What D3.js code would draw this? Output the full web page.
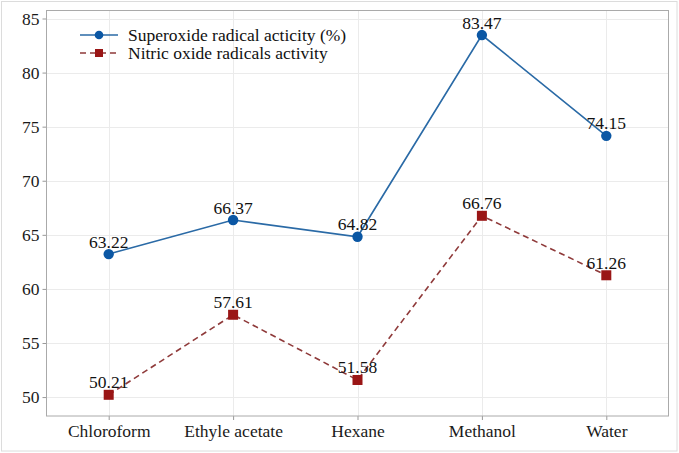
<!DOCTYPE html>
<html>
<head>
<meta charset="utf-8">
<script src="https://cdn.jsdelivr.net/npm/d3@7"></script>
<style>
  html, body { margin: 0; padding: 0; background: #fff; }
  svg { display: block; }
</style>
</head>
<body>
<svg id="chart" width="679" height="453"></svg>
<script>
const categories = ["Chloroform", "Ethyle acetate", "Hexane", "Methanol", "Water"];
const superoxide = [63.22, 66.37, 64.82, 83.47, 74.15];
const nitricOxide = [50.21, 57.61, 51.58, 66.76, 61.26];
const yTicks = [50, 55, 60, 65, 70, 75, 80, 85];
const seriesNames = ["Superoxide radical acticity (%)", "Nitric oxide radicals activity"];

const W = 679, H = 453;
const margin = { left: 46.5, right: 10.5, top: 10.5, bottom: 37 };
const svg = d3.select("#chart");
const font = "'Liberation Serif', 'Times New Roman', serif";
const fs = 17.5;

// outer border
svg.append("rect").attr("x", 1.5).attr("y", 1.5).attr("width", W - 3.5).attr("height", H - 3.5)
  .attr("fill", "#fff").attr("stroke", "#dcdcdc").attr("stroke-width", 1);

const x = d3.scalePoint().domain(categories).range([margin.left, W - margin.right]).padding(0.5);
const y = d3.scaleLinear().domain([48.25, 85.74]).range([H - margin.bottom, margin.top]);

const g = svg.append("g");

// grid
g.selectAll(".hg").data(yTicks).enter().append("line")
  .attr("x1", margin.left).attr("x2", W - margin.right)
  .attr("y1", d => Math.round(y(d)) + 0.5).attr("y2", d => Math.round(y(d)) + 0.5)
  .attr("stroke", "#ebebeb").attr("stroke-width", 1);
g.selectAll(".vg").data(categories).enter().append("line")
  .attr("y1", margin.top).attr("y2", H - margin.bottom)
  .attr("x1", d => Math.round(x(d)) + 0.5).attr("x2", d => Math.round(x(d)) + 0.5)
  .attr("stroke", "#ebebeb").attr("stroke-width", 1);

// axes
const yAxis = d3.axisLeft(y).tickValues(yTicks).tickSize(4).tickPadding(3);
const gy = svg.append("g").attr("transform", `translate(${margin.left},0)`).call(yAxis);
gy.select(".domain").remove();
gy.selectAll("line").attr("stroke", "#999");
gy.selectAll("text").attr("font-family", font).attr("font-size", fs).attr("fill", "#1a1a1a");

const xAxis = d3.axisBottom(x).tickSize(4).tickPadding(5);
const gx = svg.append("g").attr("transform", `translate(0,${H - margin.bottom})`).call(xAxis);
gx.select(".domain").remove();
gx.selectAll("line").attr("stroke", "#999");
gx.selectAll("text").attr("font-family", font).attr("font-size", fs).attr("fill", "#1a1a1a");

// frame
svg.append("rect").attr("x", margin.left).attr("y", margin.top)
  .attr("width", W - margin.left - margin.right).attr("height", H - margin.top - margin.bottom)
  .attr("fill", "none").attr("stroke", "#aaaaaa").attr("stroke-width", 1);

const blueLine = "#2a6aa6", blueDot = "#0b57a4";
const redLine = "#8f3a3a", redDot = "#9a1616";

const line = d3.line().x((d, i) => x(categories[i])).y(d => y(d));

svg.append("path").datum(superoxide).attr("d", line)
  .attr("fill", "none").attr("stroke", blueLine).attr("stroke-width", 1.6);
svg.append("path").datum(nitricOxide).attr("d", line)
  .attr("fill", "none").attr("stroke", redLine).attr("stroke-width", 1.6)
  .attr("stroke-dasharray", "6,4");

svg.selectAll(".dotS").data(superoxide).enter().append("circle")
  .attr("cx", (d, i) => x(categories[i])).attr("cy", d => y(d)).attr("r", 5.2)
  .attr("fill", blueDot);
svg.selectAll(".dotN").data(nitricOxide).enter().append("rect")
  .attr("x", (d, i) => x(categories[i]) - 5).attr("y", d => y(d) - 5)
  .attr("width", 10).attr("height", 10).attr("fill", redDot);

// labels
function labels(data) {
  svg.selectAll(null).data(data).enter().append("text")
    .attr("x", (d, i) => x(categories[i])).attr("y", d => y(d) - 6.5)
    .attr("text-anchor", "middle").attr("font-family", font).attr("font-size", fs)
    .attr("fill", "#111").text(d => d.toFixed(2));
}
labels(superoxide);
labels(nitricOxide);

// legend
const leg = svg.append("g");
const ly = [35, 53];
leg.append("line").attr("x1", 80).attr("x2", 118).attr("y1", ly[0]).attr("y2", ly[0])
  .attr("stroke", blueLine).attr("stroke-width", 1.6);
leg.append("circle").attr("cx", 99).attr("cy", ly[0]).attr("r", 4.3).attr("fill", blueDot);
leg.append("line").attr("x1", 80).attr("x2", 118).attr("y1", ly[1]).attr("y2", ly[1])
  .attr("stroke", redLine).attr("stroke-width", 1.6).attr("stroke-dasharray", "6,4");
leg.append("rect").attr("x", 95).attr("y", ly[1] - 4).attr("width", 8).attr("height", 8).attr("fill", redDot);
seriesNames.forEach((s, i) => {
  leg.append("text").attr("x", 128).attr("y", ly[i]).attr("dy", "0.33em")
    .attr("font-family", font).attr("font-size", fs).attr("fill", "#111").text(s);
});
</script>
</body>
</html>
